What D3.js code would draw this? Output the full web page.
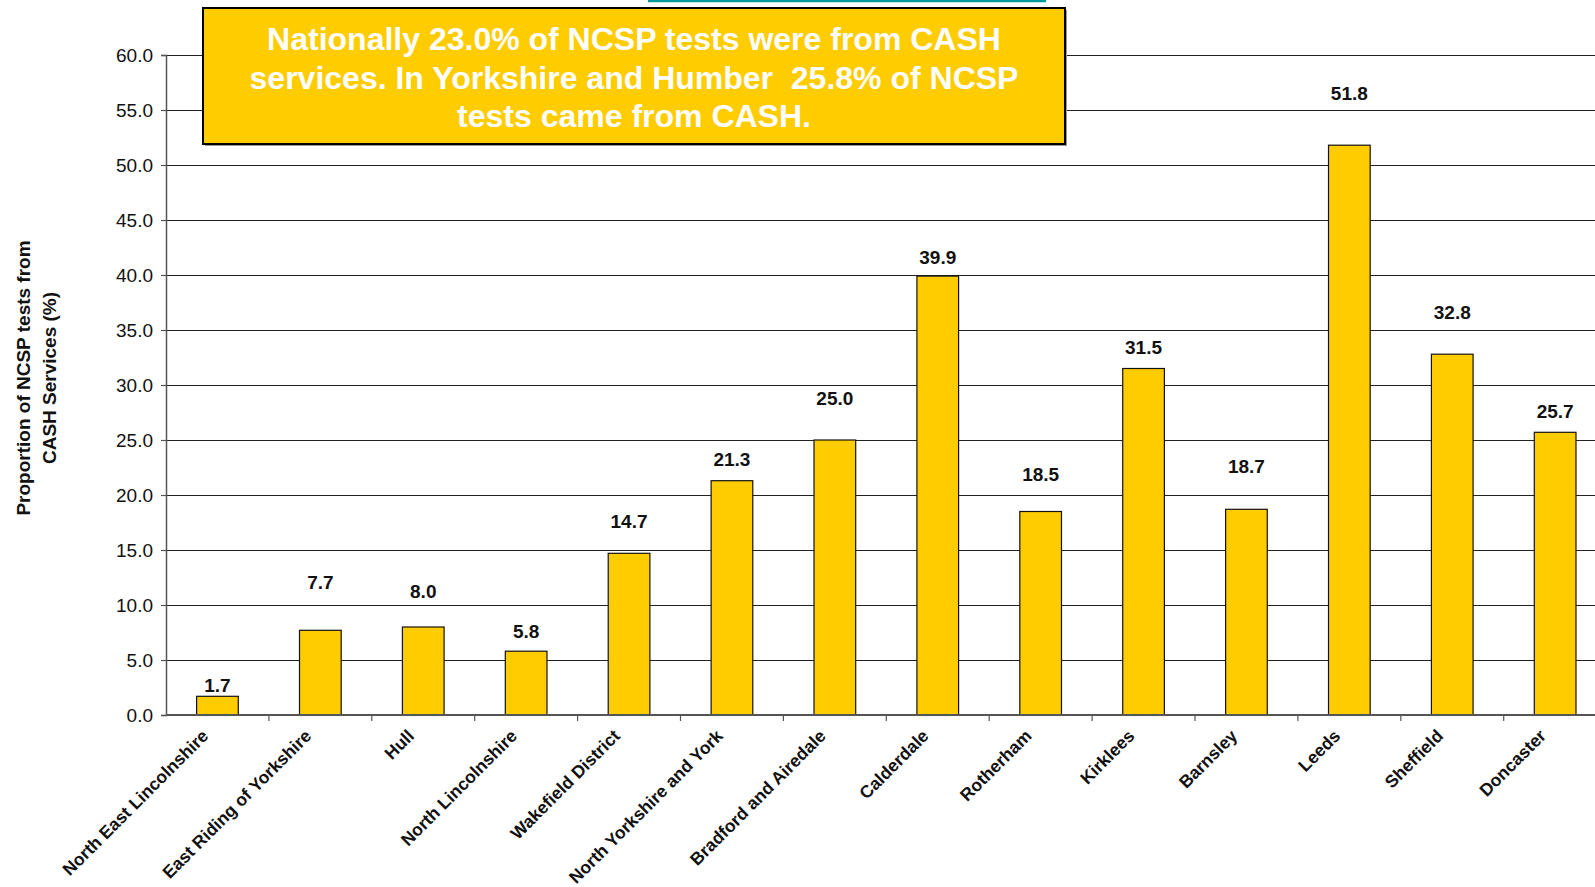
<!DOCTYPE html>
<html>
<head>
<meta charset="utf-8">
<script src="https://cdn.jsdelivr.net/npm/d3@7"></script>
<style>
  body { margin: 0; background: #fff; }
  text { font-family: "Liberation Sans", Arial, sans-serif; }
</style>
</head>
<body>
<svg id="chart" width="1595" height="887"></svg>
<script>
// data
const areas = ['North East Lincolnshire', 'East Riding of Yorkshire', 'Hull', 'North Lincolnshire',
  'Wakefield District', 'North Yorkshire and York', 'Bradford and Airedale', 'Calderdale',
  'Rotherham', 'Kirklees', 'Barnsley', 'Leeds', 'Sheffield', 'Doncaster'];
const cashShare = [1.7, 7.7, 8.0, 5.8, 14.7, 21.3, 25.0, 39.9, 18.5, 31.5, 18.7, 51.8, 32.8, 25.7];
const yTicks = [0, 5, 10, 15, 20, 25, 30, 35, 40, 45, 50, 55, 60];
const yTitle = ['Proportion of NCSP tests from', 'CASH Services (%)'];
const noteLines = ['Nationally 23.0% of NCSP tests were from CASH',
  'services. In Yorkshire and Humber  25.8% of NCSP',
  'tests came from CASH.'];

// how far each value label sits above its bar (px), as Excel left them
const labelGap = [11, 48, 36, 20, 32, 21, 42, 19, 37, 21, 43, 52, 42, 21];

const svg = d3.select('#chart');
const plotLeft = 166, plotTop = 55, plotBottom = 715, step = 102.9;

const x = d3.scaleBand()
  .domain(areas)
  .range([plotLeft, plotLeft + step * areas.length])
  .padding(0);

const y = d3.scaleLinear()
  .domain([0, 60])
  .range([plotBottom, plotTop]);

const barW = x.bandwidth() * 0.405;

// gridlines
svg.append('g')
  .selectAll('line')
  .data(yTicks.filter(d => d > 0))
  .enter().append('line')
  .attr('x1', plotLeft).attr('x2', 1595)
  .attr('y1', d => Math.round(y(d)) + 0.5)
  .attr('y2', d => Math.round(y(d)) + 0.5)
  .attr('stroke', '#222')
  .attr('stroke-width', 1);

// y axis
const yAxis = d3.axisLeft(y)
  .tickValues(yTicks)
  .tickSize(5)
  .tickPadding(8)
  .tickFormat(d3.format('.1f'));

const gY = svg.append('g')
  .attr('transform', 'translate(' + plotLeft + ',0)')
  .call(yAxis);
gY.select('.domain').attr('stroke', '#555').attr('stroke-width', 1.5);
gY.selectAll('.tick line').attr('stroke', '#555').attr('stroke-width', 1.2);
gY.selectAll('.tick text')
  .attr('font-family', '"Liberation Sans", Arial, sans-serif')
  .attr('font-size', 19)
  .attr('fill', '#111');

// bars
svg.append('g')
  .selectAll('rect')
  .data(cashShare)
  .enter().append('rect')
  .attr('x', (d, i) => x(areas[i]) + (x.bandwidth() - barW) / 2)
  .attr('y', d => y(d))
  .attr('width', barW)
  .attr('height', d => plotBottom - y(d))
  .attr('fill', '#FFCC00')
  .attr('stroke', '#111')
  .attr('stroke-width', 1.2);

// x axis (category boundaries as ticks)
svg.append('line')
  .attr('x1', plotLeft).attr('x2', 1595)
  .attr('y1', plotBottom).attr('y2', plotBottom)
  .attr('stroke', '#555').attr('stroke-width', 2);

svg.append('g')
  .selectAll('line')
  .data(areas.slice(1))
  .enter().append('line')
  .attr('x1', d => x(d)).attr('x2', d => x(d))
  .attr('y1', plotBottom).attr('y2', plotBottom + 6)
  .attr('stroke', '#555').attr('stroke-width', 1.2);

// category labels, rotated
svg.append('g')
  .selectAll('text')
  .data(areas)
  .enter().append('text')
  .attr('transform', d => 'translate(' + (x(d) + x.bandwidth() / 2 - 8) + ',' + (plotBottom + 22) + ')rotate(-45)')
  .attr('text-anchor', 'end')
  .attr('font-size', 17.5)
  .attr('font-weight', 'bold')
  .attr('fill', '#111')
  .text(d => d);

// value labels
svg.append('g')
  .selectAll('text')
  .data(cashShare)
  .enter().append('text')
  .attr('x', (d, i) => x(areas[i]) + x.bandwidth() / 2)
  .attr('y', (d, i) => y(d) - labelGap[i])
  .attr('dy', '0.35em')
  .attr('text-anchor', 'middle')
  .attr('font-size', 19)
  .attr('font-weight', 'bold')
  .attr('fill', '#111')
  .text(d => d.toFixed(1));

// y axis title
svg.append('text')
  .attr('transform', 'translate(30,378)rotate(-90)')
  .attr('text-anchor', 'middle')
  .attr('font-size', 19)
  .attr('font-weight', 'bold')
  .attr('fill', '#111')
  .selectAll('tspan')
  .data(yTitle)
  .enter().append('tspan')
  .attr('x', 0)
  .attr('dy', (d, i) => i === 0 ? 0 : 26)
  .text(d => d);

// teal underline cut off at the top
svg.append('line')
  .attr('x1', 648).attr('x2', 1046)
  .attr('y1', 1).attr('y2', 1)
  .attr('stroke', '#009a9a').attr('stroke-width', 2.5);

// note box
const box = { x: 203, y: 8, w: 862, h: 136 };
svg.append('rect')
  .attr('x', box.x + 2).attr('y', box.y + 2)
  .attr('width', box.w).attr('height', box.h)
  .attr('fill', '#999');
svg.append('rect')
  .attr('x', box.x).attr('y', box.y)
  .attr('width', box.w).attr('height', box.h)
  .attr('fill', '#FFCC00')
  .attr('stroke', '#000')
  .attr('stroke-width', 2);

svg.append('g')
  .selectAll('text')
  .data(noteLines)
  .enter().append('text')
  .attr('x', box.x + box.w / 2)
  .attr('y', (d, i) => 50 + i * 38.5)
  .attr('text-anchor', 'middle')
  .attr('font-size', 32)
  .attr('font-weight', 'bold')
  .attr('fill', '#fff')
  .style('white-space', 'pre')
  .text(d => d);
</script>
</body>
</html>
